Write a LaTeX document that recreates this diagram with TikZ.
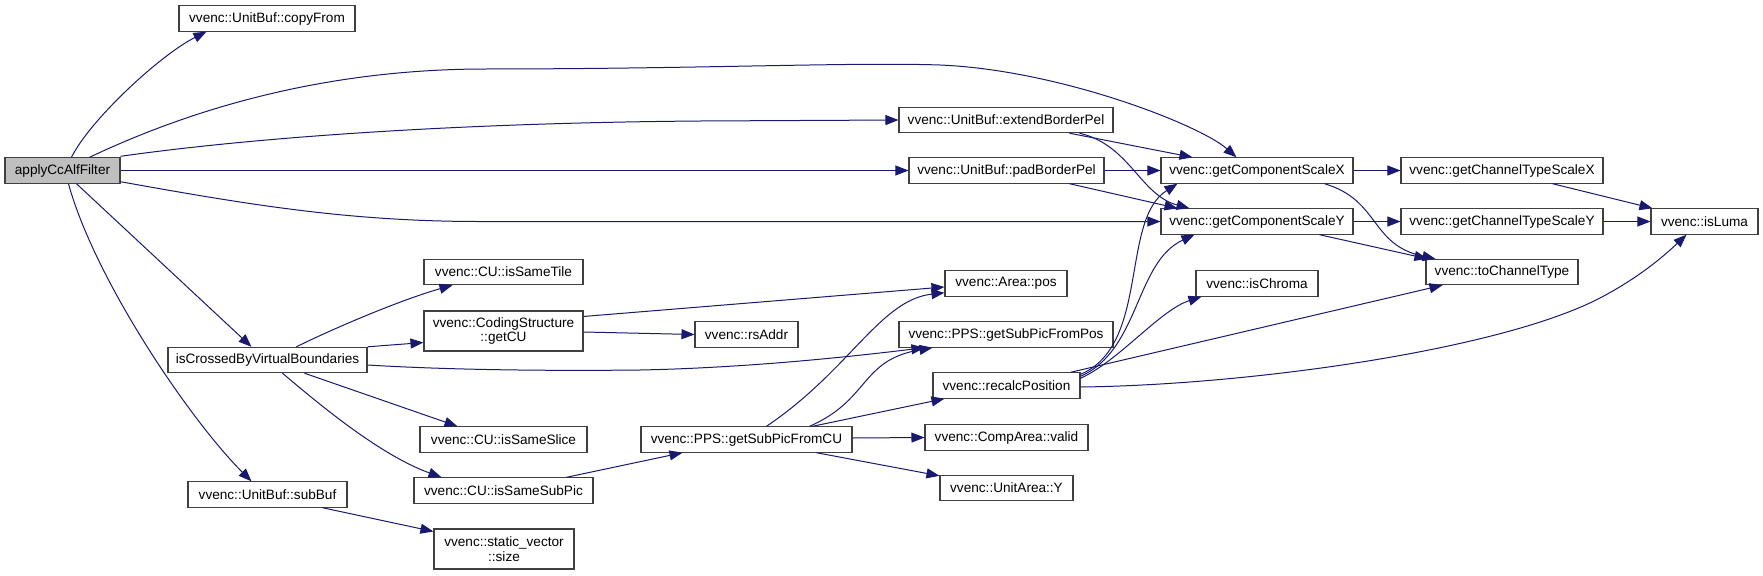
\documentclass[tikz,border=0pt]{standalone}
\usepackage{fontspec}
\setmainfont{Liberation Sans}
\usetikzlibrary{arrows.meta,calc}
\definecolor{edgec}{HTML}{191970}
\definecolor{boxc}{HTML}{404040}
\tikzset{
  fn/.style={draw=boxc, line width=0.8pt, fill=white, inner sep=0pt, align=center,
    font=\fontsize{10.2}{11}\selectfont, minimum height=19pt},
  edge/.style={draw=edgec, line width=0.75pt, -{Triangle[length=9.75pt,width=7.5pt]}, fill=none}
}
\begin{document}
\begin{tikzpicture}[x=0.75pt,y=-0.75pt]
\useasboundingbox (0,0) rectangle (1763,575);
% nodes
\node[fn, fill=gray!50, minimum width=86.25pt] (apply) at (62.5,170.5) {applyCcAlfFilter};
\node[fn, minimum width=132pt] (copy) at (267,18.5) {vvenc::UnitBuf::copyFrom};
\node[fn, minimum width=149.25pt] (cross) at (267.5,360) {isCrossedByVirtualBoundaries};
\node[fn, minimum width=119.25pt] (sub) at (267.5,494.5) {vvenc::UnitBuf::subBuf};
\node[fn, minimum width=119.25pt] (tile) at (503.5,272) {vvenc::CU::isSameTile};
\node[fn, minimum width=119.25pt, minimum height=30pt] (getcu) at (503.5,331) {vvenc::CodingStructure\\::getCU};
\node[fn, minimum width=125.25pt] (slice) at (503.5,439.5) {vvenc::CU::isSameSlice};
\node[fn, minimum width=134.25pt] (subpic) at (503.5,490.5) {vvenc::CU::isSameSubPic};
\node[fn, minimum width=105pt, minimum height=30pt] (svec) at (504,549) {vvenc::static\_vector\\::size};
\node[fn, minimum width=158.25pt] (scu) at (746.5,439.5) {vvenc::PPS::getSubPicFromCU};
\node[fn, minimum width=77.25pt] (rs) at (746.5,334.5) {vvenc::rsAddr};
\node[fn, minimum width=160.5pt] (ext) at (1006,120) {vvenc::UnitBuf::extendBorderPel};
\node[fn, minimum width=146.25pt] (pad) at (1006.5,170.5) {vvenc::UnitBuf::padBorderPel};
\node[fn, minimum width=91.5pt] (pos) at (1006,283.5) {vvenc::Area::pos};
\node[fn, minimum width=160.5pt] (spos) at (1006,334.5) {vvenc::PPS::getSubPicFromPos};
\node[fn, minimum width=110.25pt] (recalc) at (1006.5,385.5) {vvenc::recalcPosition};
\node[fn, minimum width=122.25pt] (valid) at (1006.5,437.5) {vvenc::CompArea::valid};
\node[fn, minimum width=99.75pt] (uy) at (1006.5,488) {vvenc::UnitArea::Y};
\node[fn, minimum width=144pt] (gcsX) at (1257,170.5) {vvenc::getComponentScaleX};
\node[fn, minimum width=144pt] (gcsY) at (1257,221.5) {vvenc::getComponentScaleY};
\node[fn, minimum width=91.5pt] (chroma) at (1257,283.5) {vvenc::isChroma};
\node[fn, minimum width=151.5pt] (ctsX) at (1502,170.5) {vvenc::getChannelTypeScaleX};
\node[fn, minimum width=151.5pt] (ctsY) at (1502,221.5) {vvenc::getChannelTypeScaleY};
\node[fn, minimum width=114pt] (tct) at (1502,272) {vvenc::toChannelType};
\node[fn, minimum width=80.25pt] (luma) at (1704.5,221.5) {vvenc::isLuma};
% edges from applyCcAlfFilter
\draw[edge] ($(apply.north west)+(67,0)$) .. controls (90,120) and (160,55) .. ($(copy.south west)+(28,0)$);
\draw[edge] ($(apply.north west)+(85,0)$) .. controls (200,105) and (330,70) .. (480,69) .. controls (700,69) and (850,62) .. (940,65) .. controls (1060,70) and (1200,125) .. ($(gcsX.north west)+(76,0)$);
\draw[edge] ($(apply.north east)+(0,-1)$) .. controls (250,138) and (450,123) .. (700,121) -- (ext.west);
\draw[edge] (apply.east) -- (pad.west);
\draw[edge] ($(apply.south east)+(0,-2)$) .. controls (250,205) and (350,221.5) .. (480,221.5) -- (gcsY.west);
\draw[edge] ($(apply.south west)+(72,0)$) -- ($(cross.north west)+(84,0)$);
\draw[edge] ($(apply.south west)+(64,0)$) .. controls (95,280) and (190,420) .. ($(sub.north west)+(64,0)$);
% edges from isCrossedByVirtualBoundaries
\draw[edge] ($(cross.north west)+(129,0)$) .. controls (330,330) and (400,300) .. ($(tile.south west)+(29,0)$);
\draw[edge] (cross.north east) -- ($(getcu.south west)+(0,-9)$);
\draw[edge] ($(cross.east)+(0,5)$) .. controls (450,370) and (550,371) .. (640,370) .. controls (740,368) and (840,358) .. ($(spos.south west)+(26,0)$);
\draw[edge] ($(cross.south west)+(137,0)$) -- ($(slice.north west)+(38,0)$);
\draw[edge] ($(cross.south west)+(115,0)$) .. controls (320,405) and (380,455) .. ($(subpic.north west)+(28,0)$);
% subBuf
\draw[edge] ($(sub.south west)+(135,0)$) -- ($(svec.north west)+(0,3)$);
% getCU
\draw[edge] ($(getcu.north east)+(0,6)$) -- ($(pos.west)+(0,3.5)$);
\draw[edge] ($(getcu.east)+(0,1)$) -- (rs.west);
% isSameSubPic
\draw[edge] ($(subpic.north west)+(153,0)$) -- ($(scu.south west)+(42,0)$);
% getSubPicFromCU
\draw[edge] ($(scu.north west)+(126,0)$) .. controls (850,370) and (880,300) .. ($(pos.south west)+(0,-4)$);
\draw[edge] ($(scu.north west)+(169,0)$) .. controls (870,400) and (860,360) .. ($(spos.south west)+(34,0)$);
\draw[edge] ($(scu.north west)+(172,0)$) -- ($(recalc.south west)+(12,0)$);
\draw[edge] ($(scu.east)+(0,-1.5)$) -- (valid.west);
\draw[edge] ($(scu.south west)+(176,0)$) -- ($(uy.north west)+(0,1)$);
% extendBorderPel / padBorderPel
\draw[edge] ($(ext.south west)+(171,0)$) -- ($(gcsX.north west)+(32,0)$);
\draw[edge] ($(ext.south west)+(181,0)$) .. controls (1130,145) and (1140,195) .. ($(gcsY.north west)+(29,0)$);
\draw[edge] (pad.east) -- (gcsX.west);
\draw[edge] ($(pad.south west)+(161,0)$) -- ($(gcsY.north west)+(17,0)$);
% recalcPosition
\draw[edge] ($(recalc.north east)+(0,2)$) .. controls (1150,345) and (1120,220) .. ($(gcsX.south west)+(17,0)$);
\draw[edge] ($(recalc.north east)+(0,4)$) .. controls (1140,350) and (1135,262) .. ($(gcsY.south west)+(34,0)$);
\draw[edge] ($(recalc.north east)+(0,6)$) .. controls (1120,360) and (1160,310) .. ($(chroma.south west)+(6,0)$);
\draw[edge] ($(recalc.north east)+(-10,0)$) -- ($(tct.south west)+(17,0)$);
\draw[edge] ($(recalc.east)+(0,1.5)$) .. controls (1250,385) and (1500,350) .. (1600,298) .. controls (1640,277) and (1665,255) .. ($(luma.south west)+(36,0)$);
% getComponentScale
\draw[edge] (gcsX.east) -- (ctsX.west);
\draw[edge] ($(gcsX.south west)+(164,0)$) .. controls (1380,200) and (1370,245) .. ($(tct.north west)+(10,0)$);
\draw[edge] (gcsY.east) -- (ctsY.west);
\draw[edge] ($(gcsY.south west)+(159,0)$) -- ($(tct.north west)+(2,0)$);
% getChannelTypeScale
\draw[edge] ($(ctsX.south west)+(152,0)$) -- ($(luma.north west)+(2,0)$);
\draw[edge] (ctsY.east) -- (luma.west);
\end{tikzpicture}
\end{document}
